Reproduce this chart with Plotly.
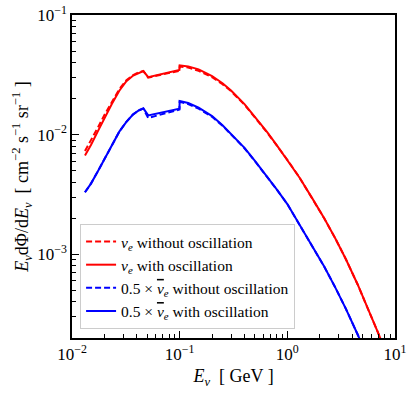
import plotly.graph_objects as go

# Neutrino energy [GeV]
energy = [0.0132, 0.015, 0.0175, 0.02, 0.0235, 0.0275, 0.032, 0.037, 0.042, 0.046,
          0.051, 0.06, 0.07, 0.08, 0.09, 0.0995, 0.1, 0.12, 0.15, 0.2, 0.25, 0.3,
          0.4, 0.5, 0.65, 0.8, 1.0, 1.3, 1.7, 2.2, 2.8, 3.5, 4.5, 5.5, 7.0, 8.5]

nue_no_osc = [7.3e-3, 8.9e-3, 0.0116, 0.0146, 0.0190, 0.0240, 0.0285, 0.0315, 0.0333, 0.0340,
              0.0300, 0.0310, 0.0320, 0.0328, 0.0336, 0.0342, 0.0372, 0.0364, 0.0342, 0.0302,
              0.0264, 0.0231, 0.0178, 0.0140, 0.0104, 8.1e-3, 6.17e-3, 4.37e-3, 2.95e-3, 2.0e-3,
              1.35e-3, 9.1e-4, 5.6e-4, 3.7e-4, 2.19e-4, 1.41e-4]
nue_osc = [6.7e-3, 8.2e-3, 0.0108, 0.0137, 0.0181, 0.0233, 0.0280, 0.0312, 0.0330, 0.0340,
           0.0302, 0.0312, 0.0322, 0.0332, 0.0340, 0.0347, 0.0380, 0.0372, 0.0351, 0.0309,
           0.0269, 0.0234, 0.0180, 0.0141, 0.0105, 8.13e-3, 6.17e-3, 4.37e-3, 2.95e-3, 2.0e-3,
           1.35e-3, 9.1e-4, 5.6e-4, 3.7e-4, 2.19e-4, 1.41e-4]
nuebar_no_osc = [3.3e-3, 3.9e-3, 5.0e-3, 6.2e-3, 8.0e-3, 0.0106, 0.0128, 0.0148, 0.0160, 0.0165,
                 0.0138, 0.0144, 0.0150, 0.0155, 0.0159, 0.0162, 0.0188, 0.0180, 0.0165, 0.0141,
                 0.0119, 0.0101, 7.7e-3, 6.0e-3, 4.47e-3, 3.47e-3, 2.63e-3, 1.76e-3, 1.19e-3, 7.9e-4,
                 5.25e-4, 3.5e-4, 2.14e-4, 1.41e-4, 8.5e-5, 5e-5]
nuebar_osc = [3.3e-3, 3.9e-3, 5.0e-3, 6.2e-3, 8.0e-3, 0.0106, 0.0128, 0.0148, 0.0160, 0.0166,
              0.0145, 0.0150, 0.0155, 0.0159, 0.0162, 0.0165, 0.0191, 0.0184, 0.0168, 0.0143,
              0.0120, 0.0102, 7.76e-3, 6.03e-3, 4.47e-3, 3.47e-3, 2.63e-3, 1.76e-3, 1.19e-3, 7.9e-4,
              5.25e-4, 3.5e-4, 2.14e-4, 1.41e-4, 8.5e-5, 5e-5]

x_tickvals = [0.01, 0.1, 1, 10]
x_ticktext = ["10<sup>−2</sup>", "10<sup>−1</sup>", "10<sup>0</sup>", "10<sup>1</sup>"]
y_tickvals = [1e-3, 1e-2, 1e-1]
y_ticktext = ["10<sup>−3</sup>", "10<sup>−2</sup>", "10<sup>−1</sup>"]

FONT = "Liberation Serif"
RED = "#ff0000"
BLUE = "#0000ff"

fig = go.Figure()
fig.add_trace(go.Scatter(x=energy, y=nue_no_osc, mode="lines",
                         line=dict(color=RED, width=2, dash="6px,3px"),
                         name="<i>ν<sub>e</sub></i> without oscillation"))
fig.add_trace(go.Scatter(x=energy, y=nue_osc, mode="lines",
                         line=dict(color=RED, width=2),
                         name="<i>ν<sub>e</sub></i> with oscillation"))
fig.add_trace(go.Scatter(x=energy, y=nuebar_no_osc, mode="lines",
                         line=dict(color=BLUE, width=2, dash="6px,3px"),
                         name="0.5 × <i><span style=\"text-decoration:overline\">ν</span><sub>e</sub></i> without oscillation"))
fig.add_trace(go.Scatter(x=energy, y=nuebar_osc, mode="lines",
                         line=dict(color=BLUE, width=2),
                         name="0.5 × <i><span style=\"text-decoration:overline\">ν</span><sub>e</sub></i> with oscillation"))

minor_x = [m * 10 ** e for e in range(-2, 1) for m in range(2, 10)]
minor_y = [m * 10 ** e for e in range(-4, -1) for m in range(2, 10)]

fig.update_xaxes(type="log", range=[-2, 1], showgrid=False, zeroline=False, automargin=False,
                 showline=True, linecolor="black", linewidth=1.5, mirror=True,
                 ticks="inside", ticklen=7, tickwidth=1, tickcolor="black",
                 tickmode="array", tickvals=x_tickvals, ticktext=x_ticktext,
                 tickfont=dict(family=FONT, size=17, color="black"),
                 minor=dict(tickmode="array", tickvals=minor_x, ticks="inside",
                            ticklen=4, tickcolor="black", showgrid=False),
                 title=dict(text="<i>E<sub>ν</sub></i>  [ GeV ]",
                            font=dict(family=FONT, size=18, color="black"), standoff=6))
fig.update_yaxes(type="log", range=[-3.699, -1], showgrid=False, zeroline=False, automargin=False,
                 showline=True, linecolor="black", linewidth=1.5, mirror=True,
                 ticks="inside", ticklen=7, tickwidth=1, tickcolor="black",
                 tickmode="array", tickvals=y_tickvals, ticktext=y_ticktext,
                 tickfont=dict(family=FONT, size=17, color="black"),
                 minor=dict(tickmode="array", tickvals=minor_y, ticks="inside",
                            ticklen=4, tickcolor="black", showgrid=False),
                 title=dict(text="<i>E<sub>ν</sub></i>dΦ/d<i>E<sub>ν</sub></i>  [ cm<sup>−2</sup> s<sup>−1</sup> sr<sup>−1</sup> ]",
                            font=dict(family=FONT, size=18, color="black"), standoff=4))

fig.update_layout(
    width=415, height=393,
    margin=dict(l=72, r=20, t=15, b=55),
    paper_bgcolor="white", plot_bgcolor="white",
    font=dict(family=FONT, color="black"),
    showlegend=True,
    legend=dict(x=0.025, y=0.028, xanchor="left", yanchor="bottom",
                bgcolor="rgba(255,255,255,0.85)", bordercolor="#cccccc", borderwidth=1,
                font=dict(family=FONT, size=15.5, color="black")),
)

fig.write_html("out.html", config={"displayModeBar": False},
               post_script="document.body.style.margin='0px';")
